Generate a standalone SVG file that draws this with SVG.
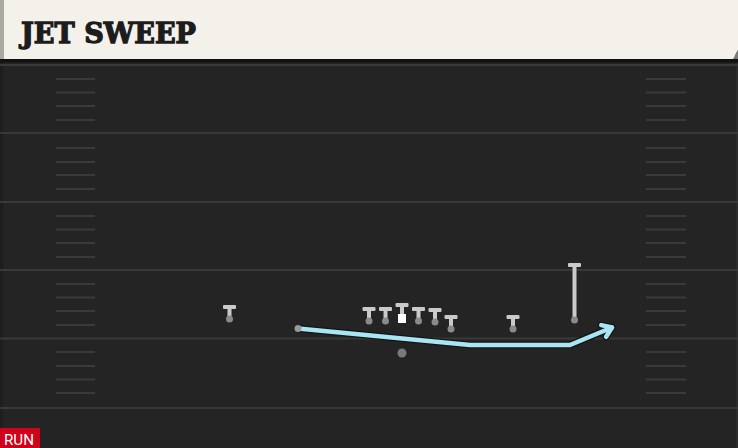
<svg xmlns="http://www.w3.org/2000/svg" xmlns:xlink="http://www.w3.org/1999/xlink" width="738" height="448" viewBox="0 0 738 448">
  <style>
    .yard { stroke: #393939; stroke-width: 2; }
    .hash { stroke: #3a3a3a; stroke-width: 2; }
    .title { font-family: "DejaVu Serif", "Liberation Serif", serif; font-weight: 700; font-size: 28px; fill: #1c1c1c; stroke: #1c1c1c; stroke-width: 1.3px; stroke-linejoin: miter; }
    .tag { font-family: Roboto, "Liberation Sans", sans-serif; font-size: 15px; fill: #ffffff; }
    .body { fill: #cacaca; }
    .dot { fill: #8a8a8a; }
    .route-out { fill: none; stroke: #151515; stroke-width: 7; stroke-linejoin: round; stroke-linecap: round; }
    .route { fill: none; stroke: #a8e6f5; stroke-width: 4.5; stroke-linejoin: round; stroke-linecap: round; }
  </style>
  <defs>
    <g id="t">
      <rect class="body" x="-6.5" y="0" width="13" height="4" rx="1"/>
      <rect class="body" x="-2" y="0" width="4" height="14"/>
      <circle class="dot" cx="0" cy="14" r="3.5"/>
    </g>
    <marker id="arrOut" markerUnits="userSpaceOnUse" orient="auto" markerWidth="30" markerHeight="30" refX="0" refY="0" viewBox="-15 -15 30 30" overflow="visible">
      <path d="M-9,-6.3 L0,0 L-9,6.3" fill="none" stroke="#151515" stroke-width="7" stroke-linecap="round" stroke-linejoin="round"/>
    </marker>
    <marker id="arr" markerUnits="userSpaceOnUse" orient="auto" markerWidth="30" markerHeight="30" refX="0" refY="0" viewBox="-15 -15 30 30" overflow="visible">
      <path d="M-9,-6.3 L0,0 L-9,6.3" fill="none" stroke="#a8e6f5" stroke-width="4.5" stroke-linecap="round" stroke-linejoin="round"/>
    </marker>
  </defs>

  <!-- field -->
  <rect x="0" y="0" width="738" height="448" fill="#242424"/>
  <rect x="0" y="62" width="3" height="386" fill="#1e1e1e"/>
  <rect x="736" y="62" width="2" height="386" fill="#2c2c2c"/>
  <g id="yardlines">
    <line class="yard" x1="0" y1="65" x2="738" y2="65"/>
    <line class="yard" x1="0" y1="133" x2="738" y2="133"/>
    <line class="yard" x1="0" y1="202" x2="738" y2="202"/>
    <line class="yard" x1="0" y1="270" x2="738" y2="270"/>
    <line class="yard" x1="0" y1="338.5" x2="738" y2="338.5"/>
    <line class="yard" x1="0" y1="408" x2="738" y2="408"/>
  </g>
  <g id="hashes">
    <path class="hash" d="M56,79H95M56,92.5H95M56,106H95M56,120H95M56,148H95M56,162H95M56,175H95M56,189H95M56,216H95M56,229.5H95M56,243H95M56,257H95M56,284H95M56,297.5H95M56,311H95M56,325H95M56,352H95M56,366H95M56,379.5H95M56,393H95"/>
    <path class="hash" d="M646,79H686M646,92.5H686M646,106H686M646,120H686M646,148H686M646,162H686M646,175H686M646,189H686M646,216H686M646,229.5H686M646,243H686M646,257H686M646,284H686M646,297.5H686M646,311H686M646,325H686M646,352H686M646,366H686M646,379.5H686M646,393H686"/>
  </g>

  <!-- title bar -->
  <g id="titlebar">
    <rect x="0" y="59" width="738" height="3.5" fill="#121212"/>
    <rect x="0" y="0" width="735" height="59" fill="#f4f1ea"/>
    <polygon points="735,0 738,0 738,50 733,59 735,59" fill="#f4f1ea"/>
    <polygon points="733,59 738,50 738,59" fill="#7a7a7a"/>
    <rect x="0" y="0" width="4" height="59" fill="#a9aaa6"/>
    <text class="title" x="21" y="43" textLength="175" lengthAdjust="spacingAndGlyphs">JET SWEEP</text>
  </g>

  <!-- connectors -->
  <g id="connectors">
    <path class="route-out" d="M298,328.5 L470,345 L570,345 L612,327.5" marker-end="url(#arrOut)"/>
    <path class="route" d="M298,328.5 L470,345 L570,345 L612,327.5" marker-end="url(#arr)"/>
  </g>

  <!-- players -->
  <g id="wr-left"><use xlink:href="#t" x="229.5" y="305"/></g>
  <g id="motion-man"><circle cx="298" cy="328.5" r="3.5" fill="#9a9a9a"/></g>
  <g id="lt"><use xlink:href="#t" x="369" y="307"/></g>
  <g id="lg"><use xlink:href="#t" x="385.5" y="307"/></g>
  <g id="center">
    <rect class="body" x="395.5" y="303" width="13" height="4" rx="1"/>
    <rect class="body" x="400" y="303" width="4" height="12"/>
    <rect x="398" y="314" width="8" height="9" fill="#ffffff"/>
  </g>
  <g id="rg"><use xlink:href="#t" x="418.5" y="307"/></g>
  <g id="rt"><use xlink:href="#t" x="435" y="308"/></g>
  <g id="te"><use xlink:href="#t" x="451" y="315"/></g>
  <g id="qb"><circle cx="402" cy="353" r="4.5" fill="#7a7a7a"/></g>
  <g id="slot"><use xlink:href="#t" x="513" y="315"/></g>
  <g id="wr-right">
    <rect class="body" x="568" y="263" width="13" height="4" rx="1"/>
    <rect class="body" x="572.5" y="263" width="4" height="57"/>
    <circle class="dot" cx="574.5" cy="320" r="3.5"/>
  </g>

  <!-- tag -->
  <g id="run-tag">
    <rect x="0" y="428" width="40" height="20" fill="#d0021b"/>
    <text class="tag" x="4" y="445" textLength="30" lengthAdjust="spacingAndGlyphs">RUN</text>
  </g>
</svg>
